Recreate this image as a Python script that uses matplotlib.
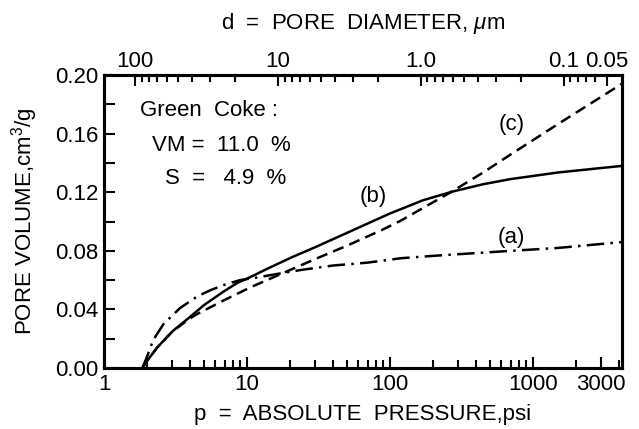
import numpy as np
import matplotlib
matplotlib.use("Agg")
import matplotlib.pyplot as plt
from matplotlib.ticker import FixedLocator, NullFormatter

plt.rcParams['font.family'] = ['Liberation Sans', 'DejaVu Sans']
plt.rcParams['mathtext.fontset'] = 'custom'
plt.rcParams['mathtext.rm'] = 'Liberation Sans'
plt.rcParams['mathtext.it'] = 'Liberation Sans:italic'

# curve (a): dash-dot
p_a = [1.85, 2.0, 2.2, 2.6, 3.4, 4.5, 5.5, 7, 8.9, 12, 18, 24, 40, 70, 120, 230, 700, 1500, 4200]
v_a = [0, 0.008, 0.019, 0.030, 0.041, 0.049, 0.053, 0.057, 0.060, 0.062, 0.065, 0.067,
       0.070, 0.072, 0.075, 0.077, 0.080, 0.082, 0.086]

# curve (b): solid
p_b = [1.85, 2.0, 2.35, 3, 4, 5, 6.8, 8.5, 10.5, 14, 21, 30, 52, 100, 170, 275, 450, 700, 1500, 4200]
v_b = [0, 0.005, 0.014, 0.025, 0.035, 0.043, 0.052, 0.058, 0.062, 0.068, 0.076, 0.0825,
       0.093, 0.1055, 0.1145, 0.1205, 0.1255, 0.129, 0.1335, 0.138]

# curve (c): dashed
p_c = [1.85, 2.0, 2.35, 3, 4, 4.5, 6.8, 10.5, 18, 31, 50, 89, 117, 212, 275, 450, 693, 1500, 4200]
v_c = [0, 0.005, 0.014, 0.025, 0.034, 0.037, 0.046, 0.055, 0.065, 0.075, 0.0835, 0.0945,
       0.1002, 0.1145, 0.1208, 0.1335, 0.1455, 0.1665, 0.194]

x_ticks = [1, 10, 100, 1000, 3000]
x_ticklabels = ['1', '10', '100', '1000', '3000']
d_ticks = [100, 10, 1, 0.1, 0.05]
d_ticklabels = ['100', '10', '1.0', '0.1', '0.05']
K = 165.0  # d (um) * p (psi)

FS = 16

fig = plt.figure(figsize=(6.39, 4.29), dpi=100)
ax = fig.add_axes([0.163, 0.142, 0.810, 0.683])

ax.plot(p_a, v_a, color='black', lw=1.8, linestyle=(0, (7, 2.5, 1, 2.5)))
ax.plot(p_b, v_b, color='black', lw=1.8)
ax.plot(p_c, v_c, color='black', lw=1.8, linestyle=(0, (4.5, 2.5)))

ax.set_xscale('log')
ax.set_xlim(1, 4200)
ax.set_ylim(0, 0.2)
ax.set_xticks(x_ticks)
ax.set_xticklabels(x_ticklabels)
minors = [m * 10 ** e for e in range(0, 4) for m in range(2, 10) if m * 10 ** e < 4200 and m * 10 ** e != 3000]
ax.xaxis.set_minor_locator(FixedLocator(minors))
ax.xaxis.set_minor_formatter(NullFormatter())
ax.set_yticks(np.arange(0, 0.201, 0.04))
ax.set_yticklabels(['%.2f' % t for t in np.arange(0, 0.201, 0.04)])
ax.yaxis.set_minor_locator(FixedLocator(np.arange(0.02, 0.2, 0.04)))

ax.tick_params(which='both', direction='in', width=1.5, labelsize=FS, pad=4)
ax.tick_params(which='major', length=8)
ax.tick_params(which='minor', length=6)
ax.tick_params(axis='y', which='minor', length=8)
for s in ax.spines.values():
    s.set_linewidth(2.2)

ax.set_xlabel('p  =  ABSOLUTE  PRESSURE,psi', fontsize=FS, labelpad=7)
ax.set_ylabel(r'PORE VOLUME,cm$^3$/g', fontsize=FS)
ax.yaxis.set_label_coords(-0.124, 0.5)

ax2 = ax.twiny()
ax2.set_xscale('log')
ax2.set_xlim(K / 1, K / 4200)
ax2.set_xticks(d_ticks)
ax2.set_xticklabels(d_ticklabels)
dminors = [m * 10.0 ** e for e in (1, 0, -1) for m in range(2, 10)] + [0.09, 0.08, 0.07, 0.06]
ax2.xaxis.set_minor_locator(FixedLocator(dminors))
ax2.xaxis.set_minor_formatter(NullFormatter())
ax2.tick_params(which='both', direction='in', width=1.5, labelsize=FS, pad=2)
ax2.tick_params(which='major', length=8)
ax2.tick_params(which='minor', length=5)
for s in ax2.spines.values():
    s.set_linewidth(2.2)
ax2.set_xlabel(r'd  =  PORE  DIAMETER, $\mu$m', fontsize=FS, labelpad=16)

ax.text(0.07, 0.88, 'Green  Coke :', transform=ax.transAxes, fontsize=FS, va='center')
ax.text(0.093, 0.761, 'VM =  11.0  %', transform=ax.transAxes, fontsize=FS, va='center')
ax.text(0.118, 0.648, 'S  =   4.9  %', transform=ax.transAxes, fontsize=FS, va='center')

ax.text(76, 0.117, '(b)', fontsize=FS, ha='center', va='center')
ax.text(710, 0.089, '(a)', fontsize=FS, ha='center', va='center')
ax.text(710, 0.166, '(c)', fontsize=FS, ha='center', va='center')

fig.savefig('out.png', dpi=100)
